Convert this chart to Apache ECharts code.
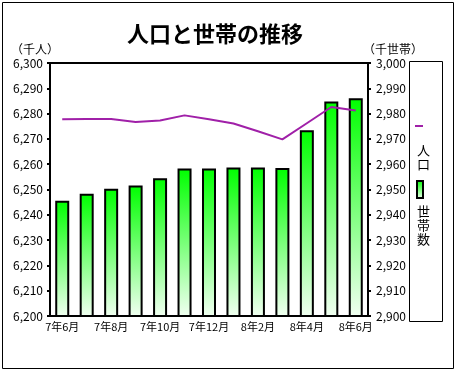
<!DOCTYPE html>
<html>
<head>
<meta charset="utf-8">
<script src="https://cdn.jsdelivr.net/npm/echarts@6/dist/echarts.min.js"></script>
<style>
  html, body { margin: 0; padding: 0; background: #fff; }
  #main { width: 472px; height: 391px; }
</style>
</head>
<body>
<div id="main"></div>
<script>
  // 月（横軸）
  var months = ['7年6月','7年7月','7年8月','7年9月','7年10月','7年11月','7年12月',
                '8年1月','8年2月','8年3月','8年4月','8年5月','8年6月']
  // 人口（千人）
  var population = [6277.8, 6277.9, 6277.9, 6276.7, 6277.3, 6279.3, 6277.8,
                    6276.1, 6273.0, 6269.8, 6276.2, 6282.6, 6281.2]
  // 世帯数（千世帯）
  var households = [2945.6, 2948.3, 2950.3, 2951.6, 2954.4, 2958.3, 2958.3,
                    2958.7, 2958.7, 2958.5, 2973.4, 2984.8, 2986.1]

  var font = '"Noto Sans CJK JP", sans-serif'
  var myChart = echarts.init(document.getElementById('main'))

  var option = {
    animation: false,
    textStyle: { fontFamily: font, color: '#000' },
    title: {
      text: '人口と世帯の推移',
      left: 122, top: 18,
      textStyle: { fontSize: 22, fontWeight: 'bold', fontFamily: font, color: '#000' }
    },
    legend: [
      { // 人口
        data: [{ name: '人口', icon: 'rect' }],
        left: 415, top: 125, padding: 0,
        itemWidth: 8, itemHeight: 2, itemGap: 0,
        formatter: function () { return '' },
        selectedMode: false
      },
      { // 世帯数
        data: [{ name: '世帯数', icon: 'rect' }],
        left: 416, top: 180, padding: 0,
        itemWidth: 6, itemHeight: 17, itemGap: 0,
        formatter: function () { return '' },
        selectedMode: false
      }
    ],
    grid: {
      left: 50, right: 104, top: 63, bottom: 75,
      show: true, borderColor: '#000', borderWidth: 2, backgroundColor: '#fff'
    },
    xAxis: {
      type: 'category',
      data: months,
      axisLine: { lineStyle: { color: '#000', width: 2 } },
      axisTick: { alignWithLabel: true, interval: 1, length: 3, lineStyle: { color: '#000', width: 2 } },
      axisLabel: { interval: 1, fontSize: 11, color: '#000', margin: 5 }
    },
    yAxis: [
      {
        type: 'value', min: 6200, max: 6300, interval: 10,
        name: '（千人）', nameGap: 8,
        nameTextStyle: { fontSize: 12, color: '#000', align: 'right', padding: [0, -9, 0, 0] },
        axisLine: { show: true, lineStyle: { color: '#000', width: 2 } },
        axisTick: { show: true, length: 3, lineStyle: { color: '#000', width: 2 } },
        axisLabel: { fontSize: 12, color: '#000', margin: 7 },
        splitLine: { show: false }
      },
      {
        type: 'value', min: 2900, max: 3000, interval: 10,
        name: '（千世帯）', nameGap: 8,
        nameTextStyle: { fontSize: 12, color: '#000', align: 'left', padding: [0, 0, 0, -5] },
        axisLine: { show: true, lineStyle: { color: '#000', width: 2 } },
        axisTick: { show: true, length: 3, lineStyle: { color: '#000', width: 2 } },
        axisLabel: { fontSize: 12, color: '#000', margin: 8 },
        splitLine: { show: false }
      }
    ],
    series: [
      {
        name: '世帯数',
        type: 'bar',
        yAxisIndex: 1,
        data: households,
        barWidth: 14,
        itemStyle: {
          borderColor: '#000', borderWidth: 2,
          color: new echarts.graphic.LinearGradient(0, 0, 0, 1, [
            { offset: 0, color: '#00ff00' },
            { offset: 1, color: '#f2fff2' }
          ])
        }
      },
      {
        name: '人口',
        type: 'line',
        yAxisIndex: 0,
        data: population,
        showSymbol: false,
        symbol: 'none',
        z: 5,
        lineStyle: { color: '#a020a8', width: 2 },
        itemStyle: { color: '#a020a8' }
      }
    ],
    graphic: [
      { // 外枠
        type: 'rect', left: 0, top: 0, z: -10,
        shape: { x: 0, y: 0, width: 451, height: 366 },
        style: { fill: 'none', stroke: '#000', lineWidth: 1 }
      },
      { // 凡例枠
        type: 'rect', left: 409, top: 61, z: -5,
        shape: { x: 0, y: 0, width: 33, height: 260 },
        style: { fill: '#fff', stroke: '#000', lineWidth: 1 }
      },
      {
        type: 'text', left: 417, top: 143,
        style: { text: '人\n口', font: '13px ' + font, lineHeight: 14, fill: '#000' }
      },
      {
        type: 'text', left: 417, top: 204,
        style: { text: '世\n帯\n数', font: '13px ' + font, lineHeight: 14, fill: '#000' }
      }
    ]
  }

  myChart.setOption(option)
</script>
</body>
</html>
